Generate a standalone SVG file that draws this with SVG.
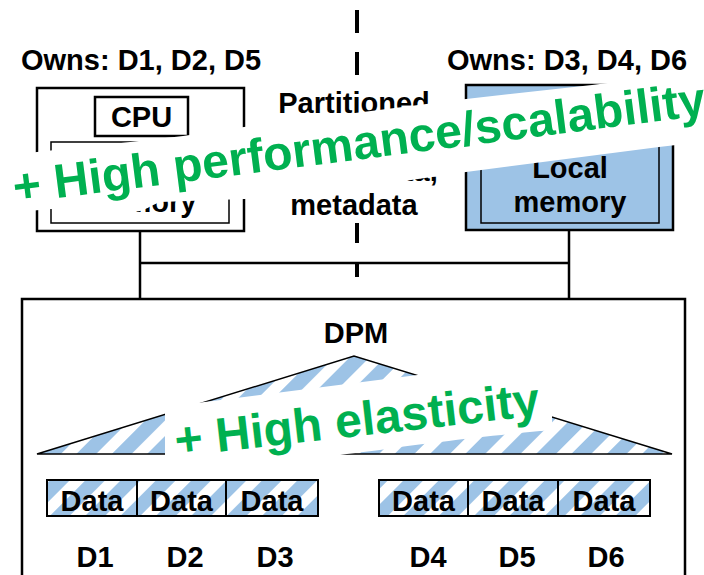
<svg xmlns="http://www.w3.org/2000/svg" width="704" height="575" viewBox="0 0 704 575">
<defs>
<pattern id="hatch" patternUnits="userSpaceOnUse" width="25" height="25" patternTransform="rotate(45)">
<rect width="25" height="25" fill="#ffffff"/>
<rect width="14" height="25" fill="#9DC3E6"/>
</pattern>
<style>
text{font-family:"Liberation Sans",Arial,Helvetica,sans-serif;font-weight:bold;fill:#000}
.lbl{font-size:29px}
.mid{text-anchor:middle}
.box{fill:#fff;stroke:#000;stroke-width:2.5}
.inner{fill:#fff;stroke:#000;stroke-width:1.5}
.blue{fill:#9DC3E6;stroke:#000;stroke-width:2.5}
.blueinner{fill:#9DC3E6;stroke:#000;stroke-width:1.5}
.data{fill:url(#hatch);stroke:#000;stroke-width:2}
.wire{stroke:#000;stroke-width:2.5;fill:none}
.wire2{stroke:#000;stroke-width:2;fill:none}
.green{fill:#00B050;font-size:48px}
.banner{fill:#fff;stroke:none}
</style>
</defs>
<rect width="704" height="575" fill="#fff"/>

<g id="divider">
<line x1="357" y1="10" x2="357" y2="277" stroke="#000" stroke-width="4" stroke-dasharray="23 19"/>
</g>

<g id="connectors">
<line class="wire" x1="140" y1="232" x2="140" y2="299"/>
<line class="wire" x1="569" y1="230" x2="569" y2="299"/>
<line class="wire" x1="140" y1="263" x2="569" y2="263"/>
<line class="wire2" x1="93" y1="454" x2="93" y2="480"/>
<line class="wire2" x1="182" y1="454" x2="182" y2="480"/>
<line class="wire2" x1="272" y1="454" x2="272" y2="480"/>
<line class="wire2" x1="424" y1="454" x2="424" y2="480"/>
<line class="wire2" x1="514" y1="454" x2="514" y2="480"/>
<line class="wire2" x1="604" y1="454" x2="604" y2="480"/>
</g>

<g id="partitioned-note">
<rect x="272" y="80" width="168" height="143" fill="#fff"/>
<text class="lbl mid" x="354" y="113">Partitioned</text>
<text class="lbl mid" x="354" y="181">owned data,</text>
<text class="lbl mid" x="354" y="215">metadata</text>
</g>

<g id="node-left">
<text class="lbl" x="21" y="70">Owns: D1, D2, D5</text>
<rect class="box" x="37" y="88" width="207" height="143"/>
<rect class="box" x="95" y="97" width="93" height="39"/>
<text class="lbl mid" x="141.5" y="127">CPU</text>
<rect class="inner" x="51" y="142" width="178" height="81"/>
<text class="lbl mid" x="140" y="178">Local</text>
<text class="lbl mid" x="140" y="212">memory</text>
</g>

<g id="node-right">
<text class="lbl" x="447" y="70">Owns: D3, D4, D6</text>
<rect class="blue" x="466" y="85" width="207" height="145"/>
<rect class="blueinner" x="481" y="140" width="178" height="83"/>
<text class="lbl mid" x="570" y="178">Local</text>
<text class="lbl mid" x="570" y="212">memory</text>
</g>

<g id="dpm">
<rect class="box" x="22" y="299" width="663" height="290"/>
<text class="lbl mid" x="356" y="343">DPM</text>
<polygon points="37,454 354,356 672,454" fill="url(#hatch)" stroke="#000" stroke-width="1.5"/>
</g>

<g id="data-d1"><rect class="data" x="47" y="480" width="90" height="36"/><text class="lbl mid" x="92" y="511">Data</text><text class="lbl mid" x="95" y="567">D1</text></g>
<g id="data-d2"><rect class="data" x="137" y="480" width="89" height="36"/><text class="lbl mid" x="181.5" y="511">Data</text><text class="lbl mid" x="185" y="567">D2</text></g>
<g id="data-d3"><rect class="data" x="226" y="480" width="92" height="36"/><text class="lbl mid" x="272" y="511">Data</text><text class="lbl mid" x="275" y="567">D3</text></g>
<g id="data-d4"><rect class="data" x="379" y="480" width="89" height="36"/><text class="lbl mid" x="423.5" y="511">Data</text><text class="lbl mid" x="428" y="567">D4</text></g>
<g id="data-d5"><rect class="data" x="468" y="480" width="90" height="36"/><text class="lbl mid" x="513" y="511">Data</text><text class="lbl mid" x="517" y="567">D5</text></g>
<g id="data-d6"><rect class="data" x="558" y="480" width="92" height="36"/><text class="lbl mid" x="604" y="511">Data</text><text class="lbl mid" x="606" y="567">D6</text></g>

<g id="banner-performance">
<path class="banner" d="M -5,157 L 37,152 C 100,145 150,140 183,136 L 244,127 L 466,99 L 592,85 L 710,70 L 710,141 L 659,147 L 466,172 C 400,182 300,196 244,199 L 160,202 C 150,206 145,210 140,211 C 120,214 100,215 80,212 L 51,209 L -5,214 Z"/>
<text class="green" transform="translate(15,203.5) rotate(-7.3)">+ High performance/scalability</text>
</g>

<g id="banner-elasticity">
<path class="banner" d="M 165,407 L 552,358 L 552,424 C 550,430 545,431 540,431 C 490,436 420,444 380,450 L 347,454 C 320,458 290,464 272,467 L 182,477 L 165,479 Z"/>
<text class="green" transform="translate(176.5,456.8) rotate(-6.5)">+ High elasticity</text>
</g>
</svg>
